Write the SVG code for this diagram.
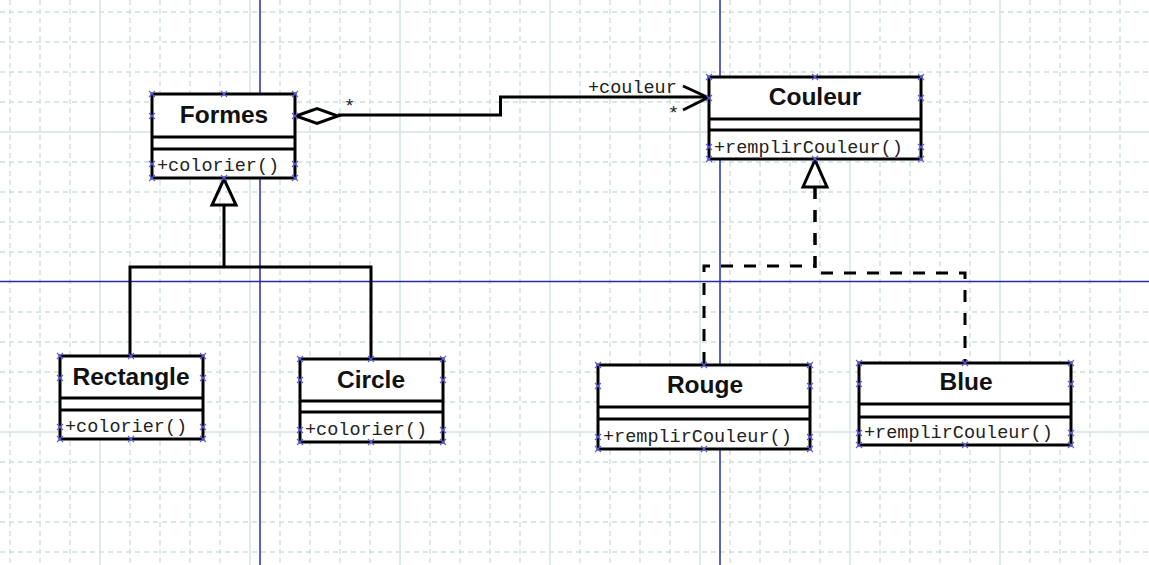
<svg xmlns="http://www.w3.org/2000/svg" xmlns:xlink="http://www.w3.org/1999/xlink" width="1149" height="565" viewBox="0 0 1149 565">
<style>
.gd{stroke:#cddfdf;stroke-width:1.3;stroke-dasharray:5 4;fill:none}
.gs{stroke:#d6e4e4;stroke-width:1.5;fill:none}
.bl{stroke:#2b2ba8;stroke-width:1.5;fill:none}
.box{fill:#fff;stroke:#000;stroke-width:3}
.sep{stroke:#000;stroke-width:3}
.title{font-family:"Liberation Sans",Arial,sans-serif;font-weight:bold;font-size:24.5px;fill:#111;text-anchor:middle}
.meth{font-family:"Liberation Mono","Courier New",monospace;font-size:18.5px;fill:#222}
.con{fill:none;stroke:#000;stroke-width:3}
.dash{fill:none;stroke:#000;stroke-width:3;stroke-dasharray:12 11}
.lbl{font-family:"Liberation Mono","Courier New",monospace;font-size:18.5px;fill:#222}
.h{stroke:#5a5ae0;stroke-width:1.1;fill:none}
</style>
<defs>
<path id="hx" class="h" d="M-3,-3L3,3M-3,3L3,-3"/>
</defs>
<rect width="1149" height="565" fill="#fff"/>
<g id="grid">
<path class="gd" d="M10,0V565M40,0V565M70,0V565M130,0V565M160,0V565M190,0V565M220,0V565M280,0V565M310,0V565M340,0V565M370,0V565M430,0V565M460,0V565M490,0V565M520,0V565M580,0V565M610,0V565M640,0V565M670,0V565M730,0V565M760,0V565M790,0V565M820,0V565M880,0V565M910,0V565M940,0V565M970,0V565M1030,0V565M1060,0V565M1090,0V565M1120,0V565"/>
<path class="gd" d="M0,12H1149M0,42H1149M0,72H1149M0,102H1149M0,162H1149M0,192H1149M0,222H1149M0,252H1149M0,312H1149M0,342H1149M0,372H1149M0,402H1149M0,462H1149M0,492H1149M0,522H1149M0,552H1149"/>
<path class="gs" d="M100,0V565M250,0V565M400,0V565M550,0V565M700,0V565M850,0V565M1000,0V565M0,132H1149M0,432H1149"/>
</g>
<g id="guides">
<path class="bl" d="M260,0V565M720,0V565M0,281.5H1149"/>
</g>
<g id="connectors">
<path class="con" d="M338,115H500.5V97H707"/>
<path class="con" d="M296,116L317,108.5L338,116L317,123.5Z" fill="#fff"/>
<path class="con" d="M683,86L708,97.5L683,110"/>
<text class="lbl" x="588" y="93">+couleur</text>
<text class="lbl" x="668" y="119">*</text>
<text class="lbl" x="344" y="112">*</text>
<path class="con" d="M224,205V267M130,356V267H371V359"/>
<path class="con" d="M224,179L212,205H236Z" fill="#fff"/>
<path class="dash" d="M815,187V266H704V365"/>
<path class="dash" d="M815,187V273H965V362"/>
<path class="con" d="M815,160L803,187H827Z" fill="#fff"/>
</g>
<g id="Formes">
<rect class="box" x="152" y="94" width="143" height="84"/>
<path class="sep" d="M152,137H295M152,149H295"/>
<text class="title" x="224" y="123">Formes</text>
<text class="meth" x="157" y="171">+colorier()</text>
</g>
<g id="Couleur">
<rect class="box" x="709" y="77" width="212" height="82"/>
<path class="sep" d="M709,119H921M709,130H921"/>
<text class="title" x="815" y="105">Couleur</text>
<text class="meth" x="714" y="153">+remplirCouleur()</text>
</g>
<g id="Rectangle">
<rect class="box" x="60" y="356" width="143" height="83"/>
<path class="sep" d="M60,398H203M60,410H203"/>
<text class="title" x="131" y="385">Rectangle</text>
<text class="meth" x="65" y="432">+colorier()</text>
</g>
<g id="Circle">
<rect class="box" x="300" y="359" width="143" height="83"/>
<path class="sep" d="M300,401H443M300,412H443"/>
<text class="title" x="371" y="388">Circle</text>
<text class="meth" x="305" y="435">+colorier()</text>
</g>
<g id="Rouge">
<rect class="box" x="598" y="365" width="212" height="84"/>
<path class="sep" d="M598,407H810M598,419H810"/>
<text class="title" x="705" y="393">Rouge</text>
<text class="meth" x="603" y="442">+remplirCouleur()</text>
</g>
<g id="Blue">
<rect class="box" x="859" y="363" width="212" height="82"/>
<path class="sep" d="M859,404H1071M859,417H1071"/>
<text class="title" x="966" y="390">Blue</text>
<text class="meth" x="864" y="438">+remplirCouleur()</text>
</g>
<g id="handles">
<use xlink:href="#hx" x="152" y="94"/><use xlink:href="#hx" x="224" y="94"/><use xlink:href="#hx" x="295" y="94"/><use xlink:href="#hx" x="152" y="116"/><use xlink:href="#hx" x="295" y="116"/><use xlink:href="#hx" x="152" y="164"/><use xlink:href="#hx" x="295" y="164"/><use xlink:href="#hx" x="152" y="178"/><use xlink:href="#hx" x="224" y="178"/><use xlink:href="#hx" x="295" y="178"/>
<use xlink:href="#hx" x="709" y="77"/><use xlink:href="#hx" x="815" y="77"/><use xlink:href="#hx" x="921" y="77"/><use xlink:href="#hx" x="709" y="98"/><use xlink:href="#hx" x="921" y="98"/><use xlink:href="#hx" x="709" y="147"/><use xlink:href="#hx" x="921" y="147"/><use xlink:href="#hx" x="709" y="159"/><use xlink:href="#hx" x="815" y="159"/><use xlink:href="#hx" x="921" y="159"/>
<use xlink:href="#hx" x="60" y="356"/><use xlink:href="#hx" x="131" y="356"/><use xlink:href="#hx" x="203" y="356"/><use xlink:href="#hx" x="60" y="378"/><use xlink:href="#hx" x="203" y="378"/><use xlink:href="#hx" x="60" y="427"/><use xlink:href="#hx" x="203" y="427"/><use xlink:href="#hx" x="60" y="439"/><use xlink:href="#hx" x="131" y="439"/><use xlink:href="#hx" x="203" y="439"/>
<use xlink:href="#hx" x="300" y="359"/><use xlink:href="#hx" x="371" y="359"/><use xlink:href="#hx" x="443" y="359"/><use xlink:href="#hx" x="300" y="380"/><use xlink:href="#hx" x="443" y="380"/><use xlink:href="#hx" x="300" y="430"/><use xlink:href="#hx" x="443" y="430"/><use xlink:href="#hx" x="300" y="442"/><use xlink:href="#hx" x="371" y="442"/><use xlink:href="#hx" x="443" y="442"/>
<use xlink:href="#hx" x="598" y="365"/><use xlink:href="#hx" x="704" y="365"/><use xlink:href="#hx" x="810" y="365"/><use xlink:href="#hx" x="598" y="386"/><use xlink:href="#hx" x="810" y="386"/><use xlink:href="#hx" x="598" y="437"/><use xlink:href="#hx" x="810" y="437"/><use xlink:href="#hx" x="598" y="449"/><use xlink:href="#hx" x="704" y="449"/><use xlink:href="#hx" x="810" y="449"/>
<use xlink:href="#hx" x="859" y="363"/><use xlink:href="#hx" x="965" y="363"/><use xlink:href="#hx" x="1071" y="363"/><use xlink:href="#hx" x="859" y="384"/><use xlink:href="#hx" x="1071" y="384"/><use xlink:href="#hx" x="859" y="433"/><use xlink:href="#hx" x="1071" y="433"/><use xlink:href="#hx" x="859" y="445"/><use xlink:href="#hx" x="965" y="445"/><use xlink:href="#hx" x="1071" y="445"/>
</g>
</svg>
